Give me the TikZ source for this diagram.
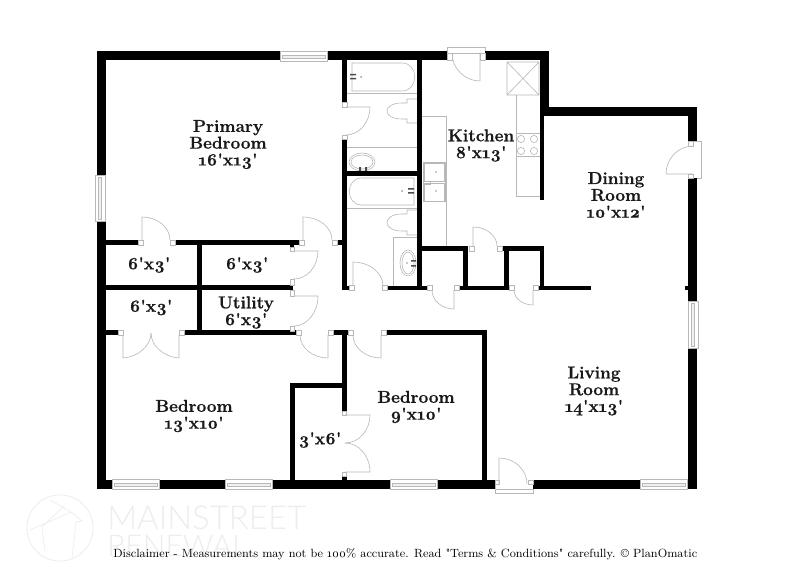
\documentclass[tikz,border=0pt]{standalone}
\usepackage{fontspec}
\usetikzlibrary{calc}
\newfontfamily\lblfont{Latin Modern Roman}[Numbers=OldStyle,BoldFeatures={FakeBold=0.7}]
\newfontfamily\wmfont{Lato Light}
\definecolor{fix}{HTML}{B8B8B8}
\definecolor{wm}{HTML}{EDEDED}
\tikzset{
  x=0.75pt,y=-0.75pt,
  wall/.style={fill=black,draw=none},
  fixture/.style={draw=fix,line width=0.45pt},
  jamb/.style={draw=fix,line width=0.45pt,fill=white},
  lbl/.style={font=\lblfont\bfseries\fontsize{12.9}{12.6}\selectfont,align=center,inner sep=0pt,text=black!90},
}
% wall rectangle x1 y1 x2 y2
\newcommand{\W}[4]{\fill[wall] (#1,#2) rectangle (#3,#4);}
\newcommand{\J}[4]{\draw[jamb] (#1,#2) rectangle (#3,#4);}
% door leaf: hinge H, leaf end L, arc end E
\newcommand{\Dr}[6]{%
  \draw[fixture] (#1,#2) -- (#3,#4)
    .. controls ($(#3,#4)+0.55*(#5,#6)-0.55*(#1,#2)$) and ($(#5,#6)+0.55*(#3,#4)-0.55*(#1,#2)$) .. (#5,#6);}
% window horizontal / vertical
\newcommand{\WH}[3]{% x1 x2 ytop
  \draw[fixture,fill=white] (#1,#3) rectangle (#2,#3+10);
  \draw[fixture,fill=black!6] (#1+2,#3+4) rectangle (#2-2,#3+7);}
\newcommand{\WV}[3]{% xleft y1 y2
  \draw[fixture,fill=white] (#1,#2) rectangle (#1+10,#3);
  \draw[fixture,fill=black!6] (#1+3,#2+2) rectangle (#1+6,#3-2);}
\begin{document}
\begin{tikzpicture}
\useasboundingbox[fill=white] (0,0) rectangle (809,588);
% watermark
\draw[wm,line width=0.6pt] (60,528) circle (33);
\draw[wm,line width=0.5pt] (42,527) -- (45,551) (42,527) -- (65,505) (71,512) -- (82,521) -- (76,522) -- (72,558) (71,512) -- (30,530) (50,500) -- (71,512);
\node[anchor=west,inner sep=0pt,text=wm] (wmA) at (107,518) {\wmfont\fontsize{24.7}{25}\selectfont MAINSTREET};
\node[anchor=west,inner sep=0pt,text=wm] (wmB) at (107,546) {\wmfont\fontsize{22.5}{23}\selectfont RENEWAL};
% fixtures: bath 1
\draw[fixture] (352,63) -- (402,63) .. controls (419,63) and (419,91) .. (402,91) -- (352,91) -- cycle;
\draw[fixture] (347,93) -- (417,93);
\draw[fixture] (347,147) -- (417,147);
\draw[fixture] (417,99) -- (407,99) -- (407,103) -- (402,103) .. controls (382,103) and (382,119) .. (402,119) -- (407,119) -- (407,123) -- (417,123);
\draw[fixture] (362,162) ellipse (13 and 9);
\draw[fixture] (362,162) ellipse (11 and 7);
\fill[black!70] (350,74) rectangle (356,75.5) (350,78) rectangle (356,79.5) (359,167) rectangle (361,171) (365,167) rectangle (367,171);
\fill[black!40] (361,77) circle (1);
% fixtures: bath 2
\draw[fixture] (414,178) -- (362,178) .. controls (345,178) and (345,205) .. (362,205) -- (414,205) -- cycle;
\draw[fixture] (346,208) -- (417,208);
\draw[fixture] (417,210) -- (407,210) -- (407,214) -- (402,214) .. controls (382,214) and (382,231) .. (402,231) -- (407,231) -- (407,235) -- (417,235);
\draw[fixture] (417,237) -- (393,237) -- (393,286);
\draw[fixture] (408,263) ellipse (8 and 13);
\draw[fixture] (408,263) ellipse (6 and 11);
\fill[black!70] (408,188) rectangle (414,189.5) (408,192) rectangle (414,193.5) (411,260) rectangle (416,261.5) (411,265) rectangle (416,266.5);
\fill[black!40] (402,191) circle (1);
\fill[black!40] (407,263) circle (0.8);
% kitchen
\draw[fixture] (422,116) -- (446,116) -- (446,246);
\draw[fixture] (423,162) rectangle (445,201);
\draw[fixture] (424,163) rectangle (444,181);
\draw[fixture] (424,183) rectangle (444,201);
\fill[black!40] (436,172) circle (0.8) (436,191) circle (0.8);
\draw[fixture] (423,181) rectangle (430,184);
\draw[fixture] (540,196) -- (516,196) -- (516,95);
\draw[fixture] (516,133) -- (540,133) (516,156) -- (540,156);
\foreach \cx/\cy in {521/139,534/139,521/151,534/151} \draw[fixture] (\cx,\cy) circle (3.6);
\draw[fixture] (507,62) rectangle (539,95) (507,62) -- (539,95) (507,95) -- (539,62);
% door and window frames outside walls
\draw[fixture] (447,53) -- (447,47) -- (485,47) -- (485,53);
\draw[fixture] (447,53) -- (485,53);
\draw[fixture] (495,484) -- (495,493) -- (533,493) -- (533,484);
\draw[fixture] (495,489) -- (533,489);
\draw[fixture] (688,141) -- (701,141) -- (701,178) -- (688,178);
% walls: outer
\W{97}{51}{447}{60}
\W{485}{51}{549}{60}
\W{540}{51}{549}{116}
\W{540}{107}{697}{116}
\W{688}{107}{697}{141}
\W{688}{178}{697}{489}
\W{685}{286}{688}{290}
\W{97}{51}{105.5}{489}
\W{97}{479.5}{495}{489}
\W{533}{479.5}{697}{489}
\W{539.5}{116}{544}{200}
% walls: baths
\W{342}{60}{346.5}{102}
\W{342}{138}{346.5}{290}
\W{417}{60}{422}{290}
\W{346}{171}{417}{175.5}
\W{342}{285.5}{349}{290}
\W{387}{285.5}{427}{290}
% walls: kitchen closets
\W{420}{246}{468}{251}
\W{463}{246}{468}{290}
\W{501}{246}{544}{251}
\W{504}{246}{508.5}{290}
\W{540}{246}{544}{290}
\W{459}{285.5}{509}{290}
\W{538}{285.5}{591}{290}
% walls: left closets
\W{105}{240}{138}{245}
\W{175}{240}{299}{245}
\W{337}{240}{342}{245}
\W{197}{240}{201.5}{335}
\W{105}{285}{293}{290}
\W{105}{330}{118}{335}
\W{184}{330}{296}{335}
\W{333}{330}{348}{335}
\W{290}{245}{294}{247}
\W{342}{330}{346.5}{411}
\W{290}{383}{346}{388}
\W{290}{383}{295}{480}
\W{342}{476}{346.5}{480}
\W{385.5}{330}{487}{335}
\W{482}{330}{487}{480}
% windows
\WH{280}{327}{51}
\WH{112}{159}{479}
\WH{225}{272}{479}
\WH{390}{437}{479}
\WH{640}{687}{479}
\WV{95.5}{175}{221}
\WV{688}{301}{348}
% door jambs
\J{447}{53}{452}{60}\J{480}{53}{485}{60}
\J{342}{102}{347}{107}\J{342}{135}{347}{139}
\J{349}{285.5}{354}{290}\J{382}{285.5}{387}{290}
\J{469}{246}{474}{251}\J{497}{246}{502}{251}
\J{427}{285.5}{432}{290}\J{454}{285.5}{459}{290}
\J{509}{285.5}{514}{290}\J{533}{285.5}{538}{290}
\J{138}{240}{143}{245}\J{170}{240}{175}{245}
\J{299}{240}{304}{245}\J{332}{240}{337}{245}
\J{290}{247}{294.5}{251}\J{290}{279}{294.5}{285}
\J{290}{290}{294.5}{296}\J{290}{326}{294.5}{331}
\J{296}{330}{301}{335}\J{328}{330}{333}{335}
\J{118}{330}{123}{335}\J{179}{330}{184}{335}
\J{348}{330}{353}{335}\J{381}{330}{386}{335}
\J{342}{411}{346.5}{415}\J{342}{472}{346.5}{476}
\J{495}{480}{499}{484.5}\J{528}{480}{533}{484.5}
\J{688}{141}{693}{146}\J{688}{174}{693}{178}
% door leaves
\Dr{480}{53}{480}{81}{452}{53}
\Dr{346}{107}{370}{107}{346}{135}
\Dr{353}{286}{353}{262}{383}{286}
\Dr{473}{246}{473}{227}{497}{246}
\Dr{454}{290}{454}{309}{432}{290}
\Dr{533}{290}{533}{305}{514}{290}
\Dr{142}{240}{142}{217}{170}{240}
\Dr{303}{240}{303}{217}{332}{240}
\Dr{294}{251}{318}{251}{294}{279}
\Dr{294}{296}{318}{296}{294}{326}
\Dr{328}{335}{328}{358}{300}{335}
\Dr{123}{335}{123}{358}{151}{333}
\Dr{179}{335}{179}{358}{151}{333}
\Dr{381}{335}{381}{358}{353}{335}
\Dr{345}{415}{370}{415}{345}{443}
\Dr{345}{472}{370}{472}{345}{443}
\Dr{499}{484}{499}{458}{527}{484}
\Dr{693}{174}{666}{174}{693}{146}
% labels
\node[lbl] (primary) at (228,144.5) {Primary\\Bedroom\\16'x13'};
\node[lbl] (kitchen) at (481,145.5) {Kitchen\\8'x13'};
\node[lbl] (dining) at (616,195) {Dining\\Room\\10'x12'};
\node[lbl] (c1) at (149,265) {6'x3'};
\node[lbl] (c2) at (247,265) {6'x3'};
\node[lbl] (c3) at (151,307.5) {6'x3'};
\node[lbl] (utility) at (246,312.5) {Utility\\6'x3'};
\node[lbl] (bed1) at (194,416) {Bedroom\\13'x10'};
\node[lbl] (bed2) at (416,407) {Bedroom\\9'x10'};
\node[lbl] (c4) at (320,440) {3'x6'};
\node[lbl] (living) at (594,391) {Living\\Room\\14'x13'};
\node[anchor=base west,inner sep=0pt] (disc) at (113,557) {\lblfont\fontsize{8.93}{10}\selectfont Disclaimer - Measurements may not be 100\% accurate. Read "Terms \& Conditions" carefully. © PlanOmatic};
\end{tikzpicture}
\end{document}
